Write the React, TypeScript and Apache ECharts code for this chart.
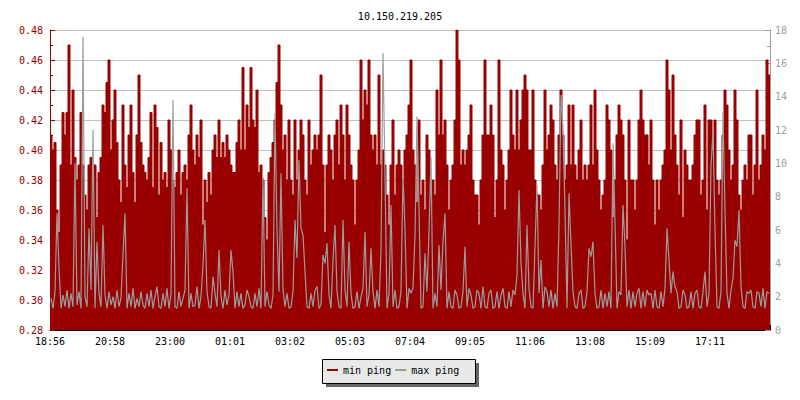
import React, { useEffect, useRef } from 'react';
import * as echarts from 'echarts';

const FONT = '"DejaVu Sans Mono", monospace';

const titleText = '10.150.219.205';
const xTickLabels = ['18:56', '20:58', '23:00', '01:01', '03:02', '05:03', '07:04', '09:05', '11:06', '13:08', '15:09', '17:11'];
const seriesNames = ['min ping', 'max ping'];

// min ping (left axis), one value per 2 px column
const minPing = [
  0.41,0.40,0.405,0.36,0.345,0.39,0.425,0.41,0.425,0.47, 0.39,0.44,0.395,0.38,0.39,0.425,0.39,0.37,0.36,0.39,
  0.395,0.39,0.39,0.355,0.385,0.395,0.43,0.425,0.445,0.46, 0.40,0.42,0.44,0.405,0.38,0.365,0.43,0.39,0.375,0.41,
  0.43,0.385,0.365,0.41,0.45,0.405,0.39,0.385,0.38,0.395, 0.425,0.375,0.43,0.415,0.37,0.405,0.38,0.385,0.375,0.42,
  0.40,0.38,0.375,0.385,0.40,0.37,0.385,0.39,0.38,0.41, 0.43,0.40,0.39,0.41,0.395,0.42,0.35,0.38,0.365,0.385,
  0.37,0.40,0.41,0.395,0.42,0.395,0.405,0.395,0.41,0.40, 0.39,0.385,0.385,0.405,0.42,0.40,0.455,0.40,0.43,0.415,
  0.455,0.42,0.415,0.44,0.385,0.39,0.38,0.355,0.34,0.385, 0.395,0.405,0.42,0.445,0.47,0.43,0.40,0.41,0.38,0.42,
  0.38,0.37,0.42,0.38,0.40,0.42,0.41,0.38,0.37,0.42, 0.39,0.40,0.41,0.40,0.41,0.45,0.39,0.345,0.39,0.41,
  0.40,0.38,0.41,0.42,0.39,0.43,0.41,0.38,0.43,0.41, 0.39,0.38,0.35,0.38,0.40,0.46,0.42,0.44,0.43,0.46,
  0.41,0.40,0.41,0.39,0.45,0.39,0.40,0.39,0.37,0.35, 0.39,0.42,0.37,0.39,0.40,0.39,0.38,0.40,0.41,0.43,
  0.46,0.40,0.39,0.365,0.42,0.37,0.38,0.36,0.41,0.40, 0.37,0.38,0.37,0.44,0.41,0.46,0.41,0.42,0.39,0.36,
  0.38,0.39,0.42,0.48,0.46,0.39,0.40,0.39,0.40,0.41, 0.43,0.38,0.37,0.37,0.35,0.38,0.41,0.46,0.41,0.41,
  0.43,0.41,0.355,0.38,0.46,0.40,0.39,0.36,0.38,0.40, 0.44,0.41,0.40,0.44,0.40,0.42,0.44,0.45,0.44,0.40,
  0.40,0.44,0.38,0.37,0.37,0.36,0.39,0.44,0.40,0.41, 0.43,0.42,0.39,0.38,0.41,0.44,0.41,0.38,0.39,0.43,
  0.39,0.43,0.39,0.38,0.40,0.42,0.38,0.39,0.38,0.39, 0.43,0.39,0.44,0.40,0.38,0.36,0.37,0.38,0.43,0.42,
  0.40,0.355,0.38,0.41,0.43,0.42,0.41,0.38,0.34,0.42, 0.38,0.38,0.36,0.38,0.42,0.44,0.42,0.41,0.41,0.39,
  0.42,0.38,0.35,0.38,0.36,0.38,0.39,0.40,0.46,0.44, 0.40,0.45,0.41,0.39,0.37,0.42,0.355,0.40,0.39,0.38,
  0.38,0.39,0.41,0.42,0.42,0.37,0.38,0.43,0.36,0.42, 0.42,0.40,0.42,0.38,0.37,0.38,0.41,0.44,0.43,0.40,
  0.38,0.39,0.44,0.42,0.37,0.36,0.38,0.39,0.38,0.41, 0.41,0.37,0.39,0.44,0.38,0.39,0.41,0.40,0.46,0.45,
];

// max ping (right axis), one value per 2 px column
const maxPing = [
  1.9,1.3,2.3,7.0,3.7,1.3,2.1,1.4,2.4,1.3, 2.2,1.4,10.0,1.5,2.3,1.3,17.6,2.0,1.4,6.1,
  2.4,12.0,1.3,5.3,2.2,1.4,6.3,2.1,1.3,2.3, 1.5,2.0,1.3,2.4,1.4,1.9,4.5,7.0,1.3,2.2,
  1.4,2.5,1.3,1.9,1.4,2.3,1.5,1.3,2.2,1.4, 2.4,1.3,2.0,2.6,1.4,1.3,2.2,1.4,2.5,1.3,
  2.1,13.8,1.4,1.3,2.3,1.4,1.9,2.4,8.5,1.3, 2.2,1.4,1.5,2.6,1.3,2.0,3.9,6.6,2.3,1.4,
  1.3,3.2,2.2,1.4,4.8,2.0,1.3,2.4,1.5,2.1, 4.8,3.5,1.3,2.3,1.4,2.2,1.3,1.5,2.4,2.0,
  1.4,1.3,2.2,1.4,2.5,1.3,9.2,1.4,2.3,1.5, 1.3,2.1,13.0,6.0,2.3,9.4,2.4,1.4,2.2,1.3,
  1.4,2.3,6.6,4.3,10.2,6.1,5.7,3.5,1.4,1.3, 2.2,1.4,2.4,2.6,1.3,1.5,4.5,4.0,5.2,2.1,
  1.3,4.2,6.3,2.3,1.4,1.3,6.6,2.4,1.4,5.3, 2.2,1.3,1.4,2.3,1.3,2.0,2.5,5.9,1.4,2.1,
  4.9,2.3,1.3,2.4,1.4,4.8,16.6,9.3,1.3,2.2, 7.5,1.4,2.4,1.3,1.4,2.3,9.3,6.1,1.3,2.5,
  2.2,2.5,5.7,12.8,7.3,1.3,1.4,4.6,2.3,5.9, 10.4,1.3,2.2,1.4,5.1,2.4,5.3,7.0,1.3,2.3,
  1.4,1.3,2.4,2.1,1.3,1.4,2.3,5.0,1.4,2.5, 2.1,1.3,1.4,2.4,2.2,1.3,2.6,1.4,1.3,2.2,
  2.4,1.3,1.4,2.3,1.3,2.1,2.5,1.4,1.3,2.3, 1.4,2.4,2.1,3.3,8.4,4.0,2.2,1.3,6.3,2.5,
  1.4,1.3,5.0,8.7,2.2,4.2,1.3,2.6,2.3,1.4, 2.4,1.3,2.2,1.4,6.3,14.1,12.1,7.2,1.3,8.2,
  5.1,2.3,1.4,1.3,2.2,2.4,1.3,1.4,2.3,4.9, 4.4,5.3,2.2,1.3,1.4,2.4,1.3,2.2,1.4,2.3,
  1.3,11.2,6.5,1.3,2.3,2.1,7.5,5.0,1.4,2.4, 1.3,2.3,1.4,2.2,2.5,1.3,2.3,1.4,2.4,2.1,
  2.2,1.3,2.4,1.4,1.3,2.3,1.4,2.5,6.1,4.2, 2.2,3.5,2.6,2.3,1.3,1.4,2.4,2.1,1.3,1.4,
  2.3,1.3,2.2,2.4,1.4,1.3,2.3,3.5,1.4,2.2, 9.9,11.9,6.0,1.4,1.3,2.3,13.1,7.2,2.2,1.3,
  2.4,3.1,5.4,5.0,7.2,2.6,1.4,1.3,2.3,2.2, 2.4,1.4,1.3,2.3,2.2,1.4,2.5,1.3,2.3,2.2,
];

const RED = '#990000';
const GRAY = '#9c9c9c';

export default function App() {
  const ref = useRef<HTMLDivElement>(null);
  useEffect(() => {
    const chart = echarts.init(ref.current!, null, { renderer: 'svg' });
    const n = minPing.length;
    const redData: number[][] = minPing.map((v, i) => [i, v]);
    redData.push([n, minPing[n - 1]]);
    const grayData = maxPing.map((v, i) => [i + 0.5, v]);
    const step = n / xTickLabels.length;

    chart.setOption({
      animation: false,
      backgroundColor: '#ffffff',
      textStyle: { fontFamily: FONT },
      title: {
        text: titleText,
        left: 'center',
        top: 6,
        textStyle: { fontSize: 10, fontWeight: 'normal', color: '#000', fontFamily: FONT },
      },
      graphic: [
        { type: 'rect', z: 0, shape: { x: 326, y: 363, width: 153, height: 24 }, style: { fill: '#666666' } },
        { type: 'rect', z: 1, shape: { x: 322.5, y: 359.5, width: 153, height: 24 }, style: { fill: '#e8e8e8', stroke: '#000', lineWidth: 1 } },
      ],
      legend: {
        z: 10,
        left: 327,
        top: 365,
        padding: 0,
        itemWidth: 11,
        itemHeight: 2,
        itemGap: 4,
        icon: 'rect',
        data: seriesNames,
        textStyle: { fontSize: 10, fontFamily: FONT, color: '#000' },
      },
      grid: { left: 50, right: 30, top: 30, bottom: 70, containLabel: false },
      xAxis: {
        type: 'value',
        min: 0,
        max: n,
        interval: step,
        axisLine: { show: true, lineStyle: { color: '#000', width: 1 } },
        axisTick: { show: true, inside: true, length: 5, lineStyle: { color: '#000' } },
        splitLine: { show: false },
        axisLabel: {
          color: '#000',
          fontSize: 10,
          fontFamily: FONT,
          margin: 6,
          formatter: (v: number) => xTickLabels[Math.round(v / step)] ?? '',
        },
      },
      yAxis: [
        {
          type: 'value',
          position: 'left',
          min: 0.28,
          max: 0.48,
          interval: 0.02,
          axisLine: { show: true, lineStyle: { color: RED } },
          axisTick: { show: true, inside: true, length: 5, lineStyle: { color: RED } },
          minorTick: { show: true, splitNumber: 2, length: 3, lineStyle: { color: RED } },
          splitLine: { show: true, lineStyle: { color: '#c0c0c0', width: 1 } },
          axisLabel: {
            color: RED,
            fontSize: 10,
            fontFamily: FONT,
            margin: 7,
            formatter: (v: number) => v.toFixed(2),
          },
        },
        {
          type: 'value',
          position: 'right',
          min: 0,
          max: 18,
          interval: 2,
          axisLine: { show: true, lineStyle: { color: GRAY } },
          axisTick: { show: true, inside: true, length: 5, lineStyle: { color: GRAY } },
          minorTick: { show: true, splitNumber: 2, length: 3, lineStyle: { color: GRAY } },
          splitLine: { show: false },
          axisLabel: { color: GRAY, fontSize: 10, fontFamily: FONT, margin: 5 },
        },
      ],
      series: [
        {
          name: seriesNames[0],
          type: 'line',
          yAxisIndex: 0,
          step: 'end',
          data: redData,
          showSymbol: false,
          symbol: 'none',
          color: RED,
          lineStyle: { color: RED, width: 1 },
          areaStyle: { color: RED, opacity: 1, origin: 'start' },
          z: 2,
        },
        {
          name: seriesNames[1],
          type: 'line',
          yAxisIndex: 1,
          data: grayData,
          showSymbol: false,
          symbol: 'none',
          color: GRAY,
          lineStyle: { color: GRAY, width: 1.2 },
          z: 3,
        },
      ],
    });
    return () => chart.dispose();
  }, []);
  return <div ref={ref} style={{ position: 'absolute', left: 0, top: 0, width: 800, height: 400 }} />;
}
